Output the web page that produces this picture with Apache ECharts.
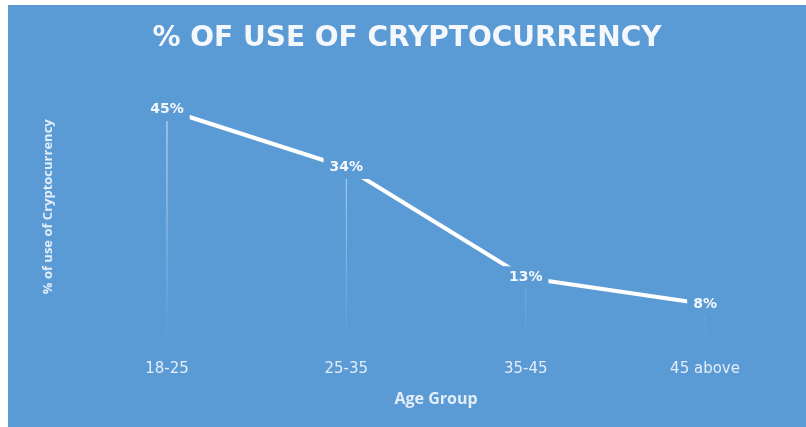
<!DOCTYPE html>
<html>
<head>
<meta charset="utf-8">
<script src="https://cdn.jsdelivr.net/npm/echarts@6/dist/echarts.min.js"></script>
<style>
  html, body { margin: 0; padding: 0; background: #fff; }
  #main { position: absolute; left: 8px; top: 5px; width: 798px; height: 422px; }
</style>
</head>
<body>
<div id="main"></div>
<script>
// 数据
var ageGroups = ['18-25', '25-35', '35-45', '45 above']
var usePercent = [45, 34, 13, 8]

var bgColor = '#5b9bd5'
var myChart = echarts.init(document.getElementById('main'))

var option = {
  backgroundColor: bgColor,
  title: {
    text: '% OF USE OF CRYPTOCURRENCY',
    left: 'center',
    top: 15,
    textStyle: {
      color: '#f4f8fc',
      fontFamily: 'DejaVu Sans',
      fontWeight: 'bold',
      fontSize: 28
    }
  },
  grid: {
    left: 69.3,
    right: 11.3,
    top: 78.5,
    bottom: 81
  },
  xAxis: {
    type: 'category',
    data: ageGroups,
    name: 'Age Group',
    nameLocation: 'middle',
    nameGap: 45,
    nameTextStyle: {
      color: '#e3edf8',
      fontFamily: 'Open Sans',
      fontWeight: 'bold',
      fontSize: 16
    },
    axisLine: { show: false },
    axisTick: { show: false },
    axisLabel: {
      color: '#e3edf8',
      fontFamily: 'DejaVu Sans',
      fontSize: 15,
      margin: 16
    }
  },
  yAxis: {
    type: 'value',
    min: 0,
    max: 50,
    name: '% of use of Cryptocurrency',
    nameLocation: 'middle',
    nameGap: 23,
    nameTextStyle: {
      color: '#e3edf8',
      fontFamily: 'Open Sans',
      fontWeight: 'bold',
      fontSize: 13,
      padding: [0, 0, 0, 16]
    },
    axisLine: { show: false },
    axisTick: { show: false },
    axisLabel: { show: false },
    splitLine: { show: false }
  },
  series: [
    {
      // drop lines
      type: 'bar',
      data: usePercent,
      barWidth: 1,
      silent: true,
      itemStyle: {
        color: {
          type: 'linear',
          global: true,
          x: 0, y: 110, x2: 0, y2: 335,
          colorStops: [
            { offset: 0, color: 'rgba(255,255,255,0.75)' },
            { offset: 1, color: 'rgba(255,255,255,0)' }
          ]
        }
      }
    },
    {
      type: 'line',
      data: usePercent,
      symbol: 'circle',
      symbolSize: 1,
      showSymbol: true,
      itemStyle: { color: '#ffffff' },
      lineStyle: { color: '#ffffff', width: 4 },
      z: 3,
      label: {
        show: true,
        position: 'inside',
        formatter: '{c}%',
        color: '#f4f8fc',
        fontFamily: 'DejaVu Sans',
        fontWeight: 'bold',
        fontSize: 14,
        backgroundColor: bgColor,
        padding: [3, 6, 6, 6]
      }
    }
  ]
}

myChart.setOption(option)
</script>
</body>
</html>
